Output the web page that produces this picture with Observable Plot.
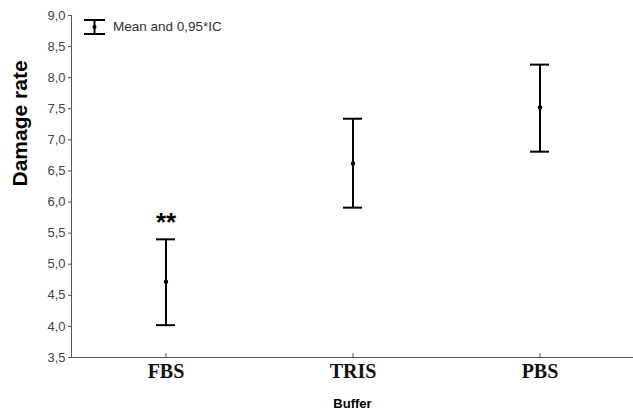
<!DOCTYPE html>
<html>
<head>
<meta charset="utf-8">
<script src="https://cdn.jsdelivr.net/npm/d3@7"></script>
<script src="https://cdn.jsdelivr.net/npm/@observablehq/plot@0.6"></script>
<style>
  html, body { margin: 0; padding: 0; background: #fff; }
  svg { display: block; }
</style>
</head>
<body>
<div id="chart"></div>
<script>
const buffers = ["FBS", "TRIS", "PBS"];
const means   = [4.72, 6.62, 7.52];
const lowers  = [4.02, 5.91, 6.81];
const uppers  = [5.40, 7.34, 8.21];
const yTicks  = [3.5, 4.0, 4.5, 5.0, 5.5, 6.0, 6.5, 7.0, 7.5, 8.0, 8.5, 9.0];
const signif  = [{buffer: "FBS", label: "**"}];

const data = buffers.map((b, i) => ({buffer: b, mean: means[i], lo: lowers[i], hi: uppers[i]}));
const sig = signif.map(s => ({...s, y: uppers[buffers.indexOf(s.buffer)]}));
const fmt = d => d.toFixed(1).replace(".", ",");

const W = 633, H = 411;
const capInset = 84;

const chart = Plot.plot({
  width: W,
  height: H,
  marginLeft: 71,
  marginRight: 0,
  marginTop: 15,
  marginBottom: 54,
  style: {fontFamily: "Arial, 'Liberation Sans', sans-serif", background: "#fff"},
  x: {domain: buffers, padding: 0, axis: null},
  y: {domain: [3.5, 9.0], axis: null},
  marks: [
    Plot.ruleY([3.5], {stroke: "#555", strokeWidth: 1}),
    Plot.frame({anchor: "left", stroke: "#555"}),
    Plot.axisY({ticks: yTicks, tickFormat: fmt, tickSize: 3, tickPadding: 3, fontSize: 13, fill: "#444", stroke: "#555", label: null}),
    Plot.axisX({tickSize: -4, tickPadding: 10, stroke: "#555", label: null, fontSize: 20, fontWeight: "bold", fontFamily: "'Liberation Serif', 'Times New Roman', serif", fill: "#111"}),
    Plot.text(["Damage rate"], {frameAnchor: "left", rotate: -90, dx: -51, fontSize: 21, fontWeight: "bold", fill: "#000"}),
    Plot.text(["Buffer"], {frameAnchor: "bottom", dy: 50, fontSize: 13, fontWeight: "bold", fill: "#000"}),
    Plot.ruleX(data, {x: "buffer", y1: "lo", y2: "hi", stroke: "#000", strokeWidth: 2}),
    Plot.tickY(data, {x: "buffer", y: "hi", stroke: "#000", strokeWidth: 2, insetLeft: capInset, insetRight: capInset}),
    Plot.tickY(data, {x: "buffer", y: "lo", stroke: "#000", strokeWidth: 2, insetLeft: capInset, insetRight: capInset}),
    Plot.dot(data, {x: "buffer", y: "mean", r: 2.2, fill: "#000", stroke: "none"}),
    Plot.text(sig, {x: "buffer", y: "y", text: "label", dy: -17, fontSize: 26, fontWeight: "bold", fill: "#000"})
  ]
});

// legend (top-left inside the frame)
const svg = d3.select(chart);
const lg = svg.append("g").attr("transform", "translate(84,20)").attr("stroke", "#000").attr("stroke-width", 2);
lg.append("line").attr("x1", 0).attr("x2", 21).attr("y1", 0).attr("y2", 0);
lg.append("line").attr("x1", 0).attr("x2", 21).attr("y1", 14).attr("y2", 14);
lg.append("line").attr("x1", 10.5).attr("x2", 10.5).attr("y1", 0).attr("y2", 14);
lg.append("circle").attr("cx", 10.5).attr("cy", 7).attr("r", 2).attr("fill", "#000").attr("stroke", "none");
svg.append("text").attr("x", 113).attr("y", 31).attr("font-size", 13.5).attr("fill", "#333")
  .attr("text-anchor", "start")
  .attr("font-family", "Arial, 'Liberation Sans', sans-serif").text("Mean and 0,95*IC");

document.getElementById("chart").appendChild(chart);
</script>
</body>
</html>
